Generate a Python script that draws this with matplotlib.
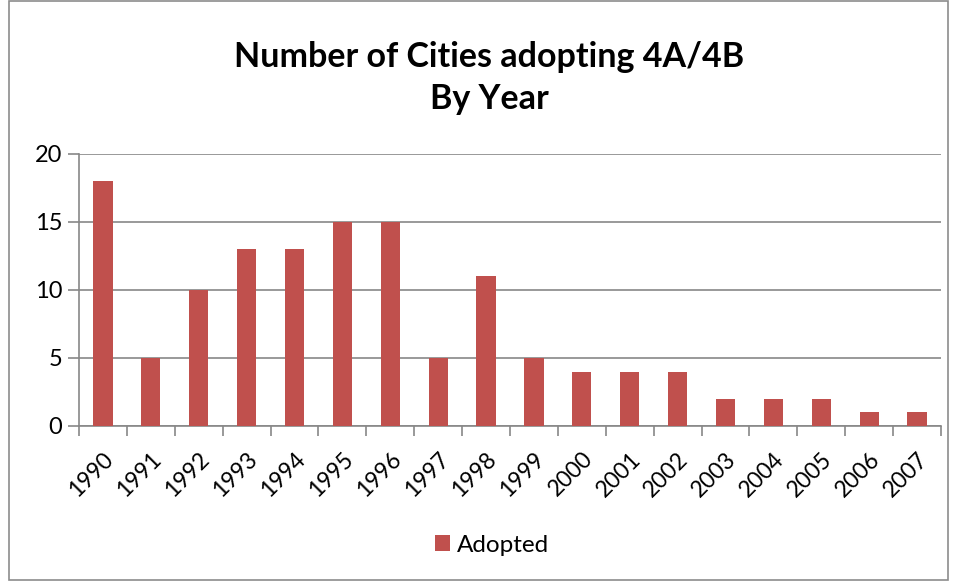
import matplotlib.pyplot as plt
from matplotlib.patches import Rectangle

years = ["1990", "1991", "1992", "1993", "1994", "1995", "1996", "1997", "1998",
         "1999", "2000", "2001", "2002", "2003", "2004", "2005", "2006", "2007"]
adopted = [18, 5, 10, 13, 13, 15, 15, 5, 11, 5, 4, 4, 4, 2, 2, 2, 1, 1]

bar_color = "#C0504D"
grid_color = "#878787"

plt.rcParams["font.family"] = ["Lato", "DejaVu Sans"]

fig = plt.figure(figsize=(9.58, 5.81), dpi=100)
ax = fig.add_axes([79 / 958, 1 - 426 / 581, (941 - 79) / 958, (426 - 154) / 581])

x = list(range(len(years)))
ax.bar(x, adopted, width=0.4, color=bar_color, label="Adopted", zorder=3)

ax.set_xlim(-0.5, len(years) - 0.5)
ax.set_ylim(0, 20)
ax.set_yticks([0, 5, 10, 15, 20])
ax.yaxis.grid(True, color=grid_color, linewidth=1.2, zorder=0)
ax.tick_params(axis="y", length=8, width=1.2, color=grid_color, labelsize=17, pad=4)

# category ticks sit between the bars, labels at the bar centres
ax.set_xticks([i - 0.5 for i in range(len(years) + 1)])
ax.set_xticklabels([])
ax.set_xticks(x, minor=True)
ax.set_xticklabels(years, minor=True, rotation=45, ha="right", va="top",
                   rotation_mode="anchor", fontsize=16.5)
ax.tick_params(axis="x", which="major", length=7, width=1.2, color=grid_color)
ax.tick_params(axis="x", which="minor", length=0, pad=16)

for side in ["top", "right"]:
    ax.spines[side].set_visible(False)
for side in ["left", "bottom"]:
    ax.spines[side].set_color(grid_color)
    ax.spines[side].set_linewidth(1.2)

fig.text(489 / 958, 1 - 57 / 581, "Number of Cities adopting 4A/4B", ha="center",
         va="center", fontsize=24.5, fontweight="bold")
fig.text(489 / 958, 1 - 99 / 581, "By Year", ha="center", va="center",
         fontsize=24.5, fontweight="bold")

fig.legend(loc="center", bbox_to_anchor=(492 / 958, 1 - 545 / 581), frameon=False,
           fontsize=17.5, handlelength=0.6, handleheight=0.6, handletextpad=0.3)

fig.patches.append(Rectangle((9 / 958, 0.001), 939 / 958, 0.997, transform=fig.transFigure,
                             fill=False, edgecolor="#8C8C8C", linewidth=1.2))

fig.savefig("out.png", dpi=100)
